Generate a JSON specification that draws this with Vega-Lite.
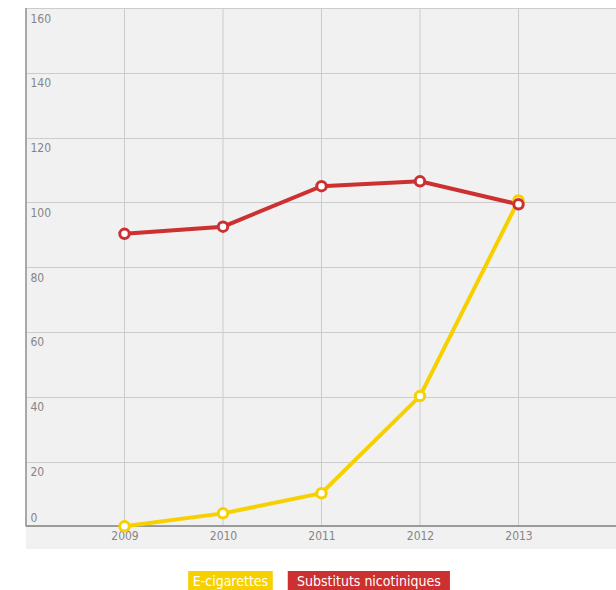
{
  "$schema": "https://vega.github.io/schema/vega-lite/v6.json",
  "padding": {"left": 25, "top": 7, "right": 0, "bottom": 0},
  "spacing": 22,
  "config": {
    "view": {"stroke": null},
    "font": "DejaVu Sans Condensed, sans-serif"
  },
  "datasets": {
    "series": [
      {"year": 2009, "serie": "E-cigarettes", "value": 0},
      {"year": 2010, "serie": "E-cigarettes", "value": 4},
      {"year": 2011, "serie": "E-cigarettes", "value": 10.2},
      {"year": 2012, "serie": "E-cigarettes", "value": 40.2},
      {"year": 2013, "serie": "E-cigarettes", "value": 100.6},
      {"year": 2009, "serie": "Substituts nicotiniques", "value": 90.3},
      {"year": 2010, "serie": "Substituts nicotiniques", "value": 92.5},
      {"year": 2011, "serie": "Substituts nicotiniques", "value": 105},
      {"year": 2012, "serie": "Substituts nicotiniques", "value": 106.5},
      {"year": 2013, "serie": "Substituts nicotiniques", "value": 99.4}
    ],
    "years": [
      {"year": 2009}, {"year": 2010}, {"year": 2011}, {"year": 2012}, {"year": 2013}
    ],
    "legend": [
      {"serie": "E-cigarettes"},
      {"serie": "Substituts nicotiniques"}
    ]
  },
  "vconcat": [
    {
      "width": 591,
      "height": 541,
      "view": {"fill": "#f1f1f1", "stroke": null},
      "layer": [
        {
          "data": {"name": "years"},
          "mark": {"type": "rule", "color": "#cccccc", "strokeWidth": 1},
          "encoding": {
            "x": {"field": "year", "type": "quantitative", "scale": {"domain": [2008, 2014], "nice": false, "zero": false},
              "axis": {"values": [2009, 2010, 2011, 2012, 2013], "format": "d", "title": null, "grid": false, "domain": false, "ticks": false, "labelPadding": -19, "labelColor": "#858585", "labelFontSize": 12}},
            "y": {"datum": 0, "type": "quantitative", "scale": {"domain": [-7, 160], "nice": false, "zero": false},
              "axis": {"values": [0, 20, 40, 60, 80, 100, 120, 140, 160], "title": null, "grid": true, "gridColor": "#cccccc", "domain": false, "ticks": false, "labelAlign": "left",
                "labelBaseline": {"condition": {"test": "datum.value === 0", "value": "bottom"}, "value": "top"},
                "labelOffset": {"condition": {"test": "datum.value === 0", "value": -2}, "value": 5},
                "labelPadding": -4, "labelColor": "#858585", "labelFontSize": 12}},
            "y2": {"datum": 160}
          }
        },
        {
          "data": {"name": "years"},
          "mark": {"type": "rule", "color": "#a8a8a8", "strokeWidth": 1.5},
          "encoding": {
            "x": {"datum": 2008, "type": "quantitative"},
            "y": {"datum": 0, "type": "quantitative"},
            "y2": {"datum": 160}
          }
        },
        {
          "data": {"name": "years"},
          "mark": {"type": "rule", "color": "#999999", "strokeWidth": 1.5},
          "encoding": {
            "x": {"datum": 2008, "type": "quantitative"},
            "x2": {"datum": 2014},
            "y": {"datum": 0, "type": "quantitative"}
          }
        },
        {
          "data": {"name": "series"},
          "mark": {"type": "line", "strokeWidth": 4},
          "encoding": {
            "x": {"field": "year", "type": "quantitative"},
            "y": {"field": "value", "type": "quantitative"},
            "color": {"field": "serie", "type": "nominal", "legend": null,
              "scale": {"domain": ["E-cigarettes", "Substituts nicotiniques"], "range": ["#f7d000", "#cc3030"]}}
          }
        },
        {
          "data": {"name": "series"},
          "mark": {"type": "point", "filled": false, "fill": "white", "fillOpacity": 1, "strokeWidth": 3, "size": 90, "opacity": 1},
          "encoding": {
            "x": {"field": "year", "type": "quantitative"},
            "y": {"field": "value", "type": "quantitative"},
            "color": {"field": "serie", "type": "nominal", "legend": null}
          }
        }
      ]
    },
    {
      "width": 591,
      "height": 20,
      "view": {"fill": null, "stroke": null},
      "data": {"name": "legend"},
      "transform": [
        {"calculate": "length(datum.serie) + 2.13", "as": "w"},
        {"stack": "w", "groupby": [], "sort": [{"field": "serie", "order": "ascending"}], "as": ["x0", "x1"]},
        {"calculate": "(datum.x0 + datum.x1 - 2.13) / 2", "as": "mid"}
      ],
      "layer": [
        {
          "mark": {"type": "rect", "x2Offset": -15},
          "encoding": {
            "x": {"field": "x0", "type": "quantitative", "axis": null, "scale": {"domain": [-23, 60.83], "nice": false, "zero": false}},
            "x2": {"field": "x1"},
            "color": {"field": "serie", "type": "nominal", "legend": null,
              "scale": {"domain": ["E-cigarettes", "Substituts nicotiniques"], "range": ["#f7d000", "#cc3030"]}}
          }
        },
        {
          "mark": {"type": "text", "color": "white", "fontSize": 14, "baseline": "middle", "dy": 1},
          "encoding": {
            "x": {"field": "mid", "type": "quantitative"},
            "text": {"field": "serie"}
          }
        }
      ]
    }
  ]
}
